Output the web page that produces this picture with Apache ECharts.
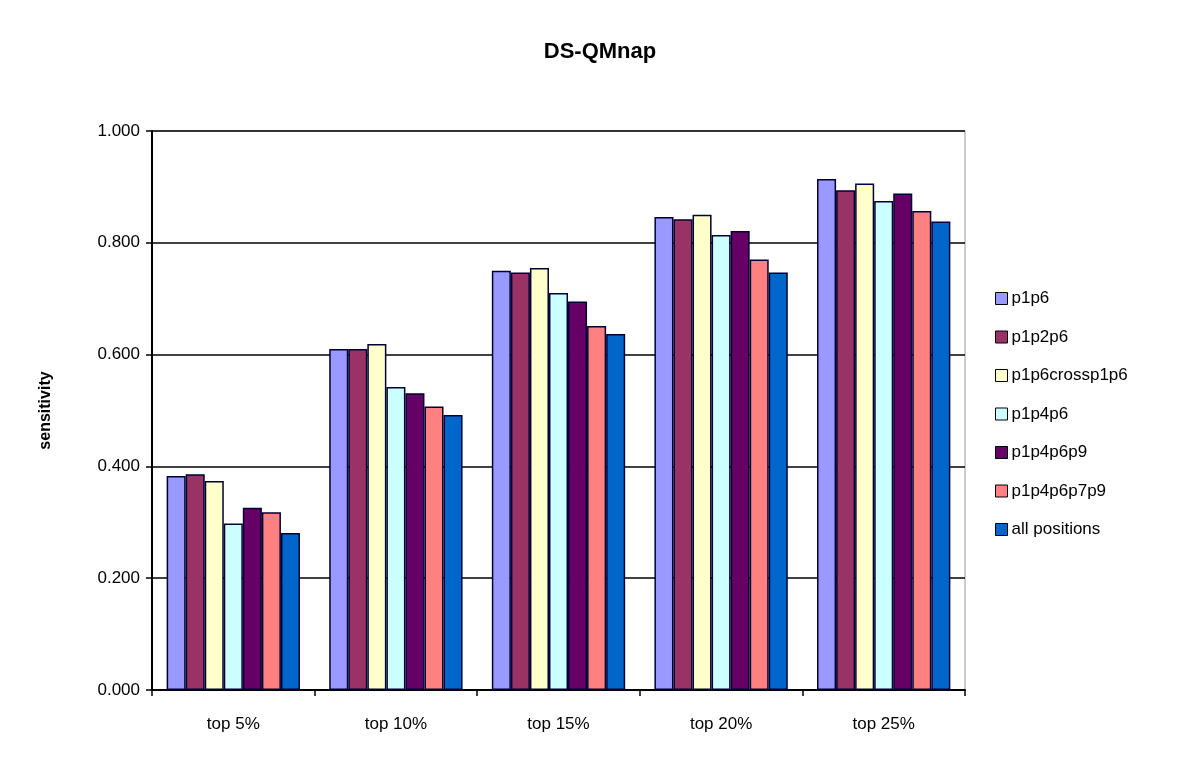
<!DOCTYPE html>
<html>
<head>
<meta charset="utf-8">
<script src="https://cdn.jsdelivr.net/npm/echarts@6/dist/echarts.min.js"></script>
<style>
html,body{margin:0;padding:0;background:#fff;}
#c{width:1200px;height:777px;}
</style>
</head>
<body>
<div id="c"></div>
<script>
const categories = ['top 5%', 'top 10%', 'top 15%', 'top 20%', 'top 25%'];
const seriesNames = ['p1p6', 'p1p2p6', 'p1p6crossp1p6', 'p1p4p6', 'p1p4p6p9', 'p1p4p6p7p9', 'all positions'];
const p1p6 = [0.383, 0.610, 0.750, 0.846, 0.914];
const p1p2p6 = [0.386, 0.610, 0.747, 0.842, 0.894];
const p1p6crossp1p6 = [0.374, 0.619, 0.755, 0.850, 0.906];
const p1p4p6 = [0.298, 0.542, 0.710, 0.814, 0.875];
const p1p4p6p9 = [0.326, 0.531, 0.695, 0.821, 0.888];
const p1p4p6p7p9 = [0.318, 0.507, 0.651, 0.770, 0.857];
const allPositions = [0.281, 0.492, 0.637, 0.747, 0.838];
const seriesValues = [p1p6, p1p2p6, p1p6crossp1p6, p1p4p6, p1p4p6p9, p1p4p6p7p9, allPositions];
const colors = ['#9999FF', '#993366', '#FFFFCC', '#CCFFFF', '#660066', '#FF8080', '#0066CC'];

const font = '"Liberation Sans", Arial, sans-serif';
const chart = echarts.init(document.getElementById('c'), null, {renderer: 'canvas'});
chart.setOption({
  animation: false,
  backgroundColor: '#fff',
  title: {
    text: 'DS-QMnap',
    left: 'center',
    top: 36,
    textStyle: {fontFamily: font, fontSize: 22, fontWeight: 'bold', color: '#000'}
  },
  legend: {
    orient: 'vertical',
    left: 990,
    top: 285,
    itemGap: 21.5,
    itemWidth: 12,
    itemHeight: 12,
    icon: 'rect',
    data: seriesNames,
    textStyle: {fontFamily: font, fontSize: 17, color: '#000', padding: [0, 0, 0, -1]},
    itemStyle: {borderColor: '#000', borderWidth: 1}
  },
  grid: {
    left: 152, right: 235, top: 131, bottom: 87,
    show: true, borderColor: '#999', borderWidth: 1, backgroundColor: '#fff'
  },
  xAxis: {
    type: 'category',
    data: categories,
    axisLine: {lineStyle: {color: '#000', width: 2}},
    axisTick: {show: true, length: 6, lineStyle: {color: '#000', width: 1.5}},
    axisLabel: {fontFamily: font, fontSize: 17, color: '#000', margin: 26}
  },
  yAxis: {
    type: 'value',
    min: 0, max: 1, interval: 0.2,
    name: 'sensitivity',
    nameLocation: 'middle',
    nameGap: 98,
    nameRotate: 90,
    nameTextStyle: {fontFamily: font, fontSize: 16, fontWeight: 'bold', color: '#000'},
    axisLine: {show: true, lineStyle: {color: '#000', width: 2}},
    axisTick: {show: true, length: 6, lineStyle: {color: '#000', width: 1.5}},
    axisLabel: {fontFamily: font, fontSize: 17, color: '#000', margin: 12,
      formatter: v => v.toFixed(3)},
    splitLine: {show: true, lineStyle: {color: '#000', width: 1.5}}
  },
  series: seriesNames.map((n, i) => ({
    name: n,
    type: 'bar',
    data: seriesValues[i],
    barGap: '0%',
    barCategoryGap: '18%',
    itemStyle: {color: colors[i], borderColor: '#000033', borderWidth: 1.5}
  }))
});
</script>
</body>
</html>
